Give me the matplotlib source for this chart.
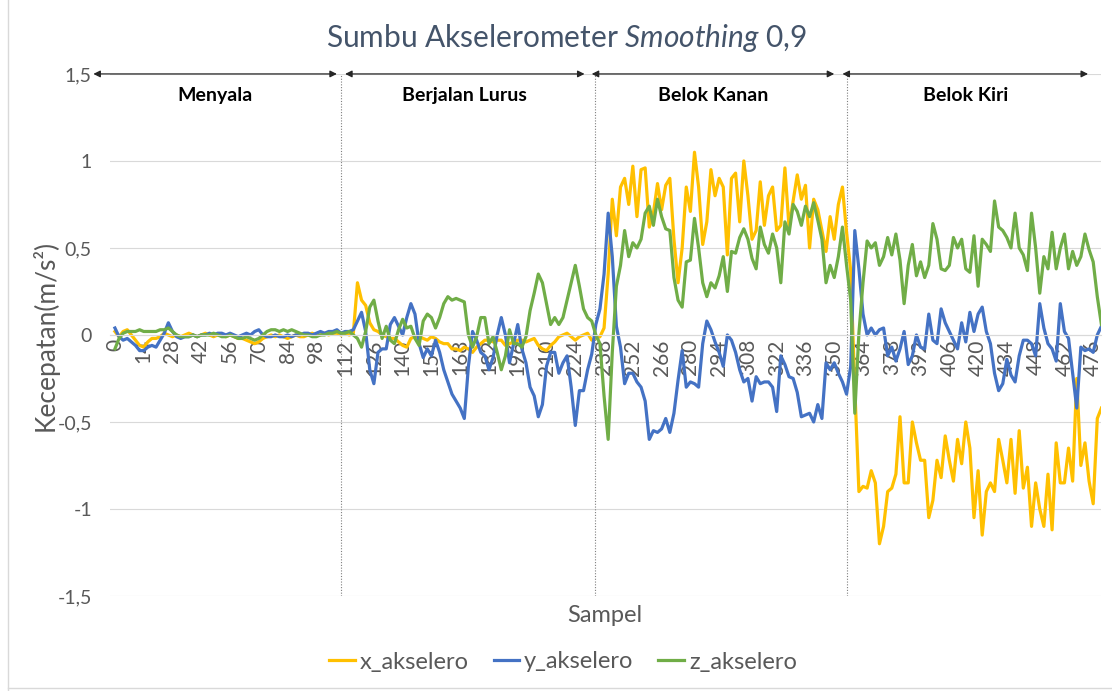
import numpy as np
import matplotlib
matplotlib.use('Agg')
import matplotlib.pyplot as plt
from matplotlib.lines import Line2D

plt.rcParams['font.family'] = 'Lato'
plt.rcParams['mathtext.fontset'] = 'custom'
plt.rcParams['mathtext.rm'] = 'Lato'
plt.rcParams['mathtext.it'] = 'Lato:italic'

# sample index (read every 2nd sample off the picture)
sampel = np.arange(0, 481, 2)

x_akselero = [
    0.02, -0.01, 0.02, 0.03, 0.0, -0.03, -0.06, -0.07, -0.04, -0.02,
    -0.02, -0.01, 0.01, 0.0, -0.01, 0.0, -0.01, 0.0, 0.01, 0.0,
    -0.01, 0.0, 0.01, 0.0, -0.01, 0.0, 0.0, -0.01, 0.0, -0.01,
    -0.02, -0.02, -0.03, -0.04, -0.05, -0.04, -0.02, -0.01, 0.0, -0.01,
    0.0, -0.01, -0.02, -0.01, 0.0, -0.01, -0.01, 0.0, 0.01, 0.0,
    0.0, 0.01, 0.0, 0.01, 0.01, 0.0, 0.01, 0.0, 0.01, 0.3,
    0.2, 0.17, 0.07, 0.03, 0.02, 0.0, -0.01, -0.02, -0.02, -0.04,
    -0.06, -0.07, -0.02, -0.01, -0.01, -0.02, -0.03, -0.01, -0.02, -0.04,
    -0.05, -0.05, -0.08, -0.08, -0.09, -0.07, -0.08, -0.1, -0.07, -0.05,
    -0.03, -0.03, -0.04, -0.03, -0.03, -0.06, -0.05, -0.04, -0.03, -0.03,
    -0.04, -0.03, -0.02, -0.06, -0.08, -0.09, -0.06, -0.04, -0.01, 0.0,
    0.01, -0.01, -0.03, -0.01, 0.0, 0.01, -0.03, -0.02, -0.01, 0.04,
    0.35, 0.78, 0.57, 0.85, 0.9, 0.75, 0.97, 0.68, 0.95, 0.96,
    0.62, 0.7, 0.87, 0.72, 0.86, 0.9, 0.55, 0.3, 0.5, 0.85,
    0.71, 1.05, 0.85, 0.52, 0.65, 0.95, 0.8, 0.9, 0.85, 0.46,
    0.9, 0.93, 0.65, 1.0, 0.8, 0.55, 0.6, 0.88, 0.63, 0.8,
    0.85, 0.6, 0.63, 0.96, 0.62, 0.77, 0.92, 0.78, 0.86, 0.5,
    0.78, 0.72, 0.6, 0.48, 0.68, 0.55, 0.75, 0.85, 0.59, 0.37,
    -0.3, -0.9, -0.87, -0.88, -0.78, -0.85, -1.2, -1.1, -0.9, -0.88,
    -0.8, -0.47, -0.85, -0.85, -0.5, -0.62, -0.72, -0.72, -1.05, -0.95,
    -0.72, -0.82, -0.58, -0.72, -0.84, -0.6, -0.74, -0.5, -0.65, -1.05,
    -0.78, -1.15, -0.9, -0.85, -0.9, -0.6, -0.72, -0.85, -0.6, -0.91,
    -0.55, -0.88, -0.76, -1.1, -0.85, -1.0, -1.1, -0.8, -1.12, -0.62,
    -0.85, -0.85, -0.65, -0.84, -0.25, -0.75, -0.62, -0.84, -0.97, -0.48,
    -0.42,
]

y_akselero = [
    0.04, -0.01, -0.03, -0.02, -0.04, -0.06, -0.09, -0.09, -0.07, -0.06,
    -0.07, -0.03, 0.01, 0.07, 0.02, -0.01, -0.02, -0.01, -0.01, 0.0,
    -0.01, 0.0, 0.0, 0.01, 0.0, 0.01, 0.01, 0.0, 0.01, 0.0,
    -0.01, 0.0, 0.01, 0.0, 0.02, 0.03, 0.0, -0.01, -0.01, 0.0,
    -0.01, -0.01, 0.0, -0.01, 0.0, 0.0, 0.01, 0.01, 0.0, 0.01,
    0.02, 0.01, 0.02, 0.02, 0.03, 0.01, 0.02, 0.02, 0.03, 0.08,
    0.13, 0.02, -0.2, -0.28, -0.1, -0.08, -0.08, 0.06, 0.1, 0.05,
    0.0, 0.1, 0.18, 0.12, -0.05, -0.13, -0.08, -0.12, -0.03, -0.1,
    -0.2, -0.27, -0.34, -0.38, -0.42, -0.48, -0.18, 0.02, -0.03, -0.1,
    -0.12, -0.2, -0.13, 0.0, 0.1, 0.0, -0.16, -0.05, 0.06, -0.08,
    -0.16, -0.3, -0.35, -0.47, -0.4, -0.18, -0.1, -0.1, -0.22, -0.16,
    -0.12, -0.3, -0.52, -0.32, -0.32, -0.2, -0.11, 0.06, 0.15, 0.35,
    0.7, 0.45, 0.05, -0.07, -0.28, -0.22, -0.22, -0.27, -0.3, -0.38,
    -0.6, -0.55, -0.56, -0.54, -0.48, -0.56, -0.45, -0.26, -0.09, -0.3,
    -0.27, -0.28, -0.3, -0.05, 0.08, 0.03, -0.04, -0.1, -0.18, 0.0,
    -0.03, -0.1, -0.2, -0.27, -0.25, -0.38, -0.24, -0.28, -0.27, -0.27,
    -0.3, -0.44, -0.12, -0.17, -0.24, -0.25, -0.33, -0.47, -0.46, -0.45,
    -0.5, -0.4, -0.48, -0.16, -0.2, -0.16, -0.22, -0.27, -0.34, -0.18,
    0.6, 0.38, 0.12, 0.0, 0.04, 0.0, 0.03, 0.04, -0.12, -0.07,
    -0.15, -0.08, 0.02, -0.17, -0.12, 0.0, -0.07, -0.08, 0.12, -0.03,
    -0.05, 0.15, 0.07, 0.02, -0.03, -0.08, 0.07, -0.04, 0.13, 0.02,
    0.12, 0.16, 0.02, -0.05, -0.22, -0.32, -0.28, -0.14, -0.23, -0.27,
    -0.12, -0.03, -0.03, -0.05, -0.12, 0.18, 0.04, -0.05, -0.08, -0.15,
    0.18, 0.02, -0.02, -0.22, -0.42, -0.07, -0.09, -0.08, -0.1, 0.0,
    0.05,
]

z_akselero = [
    -0.08, -0.02, 0.01, 0.02, 0.02, 0.02, 0.03, 0.02, 0.02, 0.02,
    0.02, 0.03, 0.03, 0.04, 0.02, 0.0, -0.01, -0.01, -0.01, 0.0,
    -0.01, 0.0, 0.0, 0.0, 0.01, 0.0, -0.01, -0.01, 0.0, -0.01,
    -0.02, -0.02, -0.01, -0.02, -0.03, -0.02, 0.0, 0.02, 0.03, 0.03,
    0.02, 0.03, 0.02, 0.03, 0.02, 0.01, 0.0, 0.0, -0.01, -0.01,
    0.0, 0.0, 0.01, 0.01, 0.02, 0.01, 0.01, 0.02, 0.0, -0.02,
    -0.07, 0.02, 0.16, 0.2, 0.08, -0.02, 0.05, -0.03, -0.05, 0.03,
    0.09, 0.04, 0.05, -0.02, -0.06, 0.08, 0.12, 0.1, 0.04, 0.1,
    0.18, 0.22, 0.2, 0.21, 0.2, 0.19, 0.0, -0.07, -0.01, 0.1,
    0.1, -0.05, -0.01, -0.1, -0.2, -0.12, 0.03, -0.05, -0.05, -0.07,
    -0.01, 0.14, 0.24, 0.35, 0.3, 0.18, 0.06, 0.1, 0.06, 0.1,
    0.2, 0.3, 0.4, 0.28, 0.15, 0.1, 0.08, 0.0, -0.05, -0.35,
    -0.6, -0.1, 0.28, 0.4, 0.6, 0.45, 0.53, 0.5, 0.55, 0.7,
    0.74, 0.63, 0.78, 0.68, 0.61, 0.6, 0.33, 0.2, 0.16, 0.42,
    0.43, 0.67, 0.5, 0.3, 0.22, 0.3, 0.27, 0.34, 0.45, 0.25,
    0.48, 0.47, 0.56, 0.61, 0.55, 0.44, 0.38, 0.62, 0.52, 0.47,
    0.58, 0.5, 0.3, 0.65, 0.58, 0.75, 0.71, 0.63, 0.74, 0.68,
    0.76, 0.66, 0.55, 0.3, 0.4, 0.33, 0.45, 0.62, 0.4, 0.2,
    -0.45, 0.01, 0.3, 0.54, 0.5, 0.53, 0.4, 0.45, 0.56, 0.46,
    0.58, 0.43, 0.18, 0.4, 0.52, 0.34, 0.42, 0.33, 0.4, 0.64,
    0.55, 0.38, 0.37, 0.4, 0.56, 0.5, 0.55, 0.38, 0.36, 0.57,
    0.28, 0.55, 0.52, 0.48, 0.77, 0.62, 0.6, 0.56, 0.5, 0.7,
    0.5, 0.46, 0.37, 0.7, 0.5, 0.24, 0.45, 0.38, 0.59, 0.38,
    0.5, 0.58, 0.38, 0.48, 0.4, 0.45, 0.58, 0.49, 0.42, 0.22,
    0.06,
]

fase = ['Menyala', 'Berjalan Lurus', 'Belok Kanan', 'Belok Kiri']
batas_fase = [110, 233.5, 356]
panah_fase = [(-10.5, 108), (112, 228.5), (232, 350), (354, 473.5)]

abu = '#595959'

fig = plt.figure(figsize=(11.12, 6.91), dpi=100)
ax = fig.add_axes([110 / 1112, 0.1375, 991 / 1112, 0.7555])

ax.plot(sampel, x_akselero, color='#ffc000', lw=2.3, label='x_akselero')
ax.plot(sampel, y_akselero, color='#4472c4', lw=2.3, label='y_akselero')
ax.plot(sampel, z_akselero, color='#70ad47', lw=2.3, label='z_akselero')

ax.set_xlim(-2.4, 479.8)
ax.set_ylim(-1.5, 1.5)
ax.set_yticks(np.arange(-1.5, 1.51, 0.5))
ax.set_yticklabels(['-1,5', '-1', '-0,5', '0', '0,5', '1', '1,5'])
ax.set_xticks(np.arange(0, 477, 14))
ax.grid(axis='y', color='#d9d9d9', lw=0.8)
ax.set_axisbelow(True)
for s in ['left', 'right', 'top']:
    ax.spines[s].set_visible(False)
ax.spines['bottom'].set_position(('data', 0))
ax.spines['bottom'].set_color('#d9d9d9')
ax.tick_params(axis='x', length=0, rotation=90, labelsize=15, colors=abu, pad=3)
ax.tick_params(axis='y', length=0, labelsize=14, colors=abu, pad=13)

# phase separators and arrows
for b in batas_fase:
    ax.axvline(b, color='#7f7f7f', ls=(0, (1, 1.5)), lw=0.8, zorder=1)
for (a0, a1), nama in zip(panah_fase, fase):
    ax.annotate('', xy=(a1, 1.5), xytext=(a0, 1.5), annotation_clip=False,
                arrowprops=dict(arrowstyle='<|-|>', color='#262626', lw=0.9,
                                mutation_scale=10, shrinkA=0, shrinkB=0))
    ax.text((a0 + a1) / 2, 1.375, nama, ha='center', va='center',
            fontsize=14, fontweight='bold', color='black')

fig.text(567 / 1112, 1 - 38 / 691, r'Sumbu Akselerometer $\mathit{Smoothing}$ 0,9',
         ha='center', va='center', fontsize=21.5, color='#44546a')
fig.text(45 / 1112, 1 - 335 / 691, 'Kecepatan(m/s²)', rotation=90,
         ha='center', va='center', fontsize=19, color=abu)
fig.text(605 / 1112, 1 - 616 / 691, 'Sampel', ha='center', va='center',
         fontsize=17, color=abu)

fig.legend(loc='center', bbox_to_anchor=(563 / 1112, 1 - 662 / 691), ncol=3,
           frameon=False, fontsize=17, handlelength=1.1, columnspacing=1.05,
           handletextpad=0.2, labelcolor=abu)

# chart border
fig.add_artist(Line2D([8 / 1112, 8 / 1112], [0, 1], transform=fig.transFigure,
                      color='#d9d9d9', lw=1))
fig.add_artist(Line2D([8 / 1112, 1], [3 / 691, 3 / 691], transform=fig.transFigure,
                      color='#d9d9d9', lw=1))

fig.savefig('out.png', dpi=100)
